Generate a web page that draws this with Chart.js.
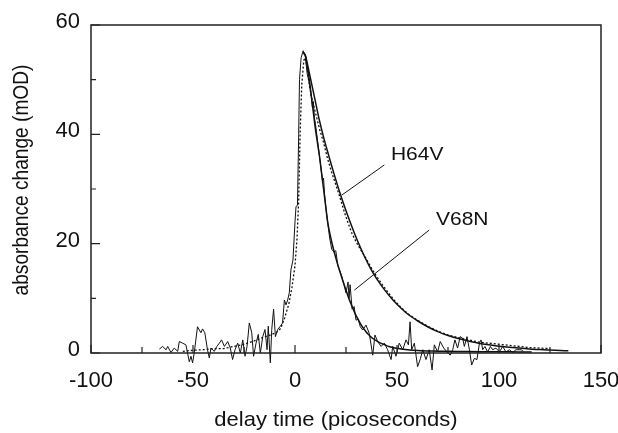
<!DOCTYPE html>
<html>
<head>
<meta charset="utf-8">
<script src="https://cdn.jsdelivr.net/npm/chart.js@4/dist/chart.umd.min.js"></script>
<style>
  html, body { margin: 0; padding: 0; background: #fff; }
  #wrap { width: 618px; height: 433px; }
</style>
</head>
<body>
<div id="wrap"><canvas id="grafico"></canvas></div>
<script>
// V68N measured trace (noisy solid line)
const v68nTime = [-66.5, -64.9, -63.2, -62.4, -60.8, -59.2, -57.5, -56.7, -55.1, -53.5, -51.8, -51, -50.2, -49.4, -47.8, -46.1, -45.3, -44.2, -42.9, -42, -41.2, -39.6, -38.3, -37.1, -36, -34.6, -33, -31.7, -30.6, -29.4, -28.1, -26.8, -25.6, -24.5, -23.5, -22.4, -21.2, -20.3, -19.1, -18, -17, -15.8, -14.7, -13.7, -13.1, -12.1, -11.4, -10.5, -9.6, -8.5, -7.2, -6.1, -5.2, -4.4, -3.6, -2.8, -2, -1, 0, 0.5, 1.2, 1.8, 2.2, 3, 4, 5, 6, 7, 8, 8.5, 9, 9.5, 10, 11, 12, 13, 13.5, 14, 14.5, 15, 16, 17, 18, 19, 20, 21, 22, 23, 24, 25, 26, 26.5, 27, 28, 29, 29.9, 31, 32, 33.2, 34.8, 36.4, 38.1, 39.2, 40.5, 42.2, 43.8, 45.4, 47.1, 47.9, 49.5, 51.1, 52.8, 54.4, 55.6, 56.4, 57.2, 58.5, 60.1, 61.5, 62.6, 64.2, 65.8, 67.2, 68.3, 69.9, 71.2, 72.9, 74.5, 76.1, 77.3, 78.4, 79.7, 81, 82.2, 83, 84.3, 85.5, 86.6, 87.9, 89.2, 90.4, 91.2, 92, 93.1, 94.4, 95.8, 96.9, 98.5, 100.2, 101.8, 103.4, 105.1, 106.7, 108.3, 110.8, 112];
const v68nAbs = [0.7, 1.2, 0.6, 1.2, 0.1, 0.9, 0.3, 2.1, 1.8, 1.5, -1.6, -0.6, -1.8, 0, 4.8, 3.7, 4.4, 3.7, 0.6, -0.9, 0.9, 0.3, 1.2, 1.8, 2.4, 1.2, 2.1, 0.9, -1.2, 0.6, 1.8, 0, 2.4, -0.6, 1.2, 5.5, 3.7, -0.6, 1.8, 3.4, 0, 3, 4.3, 0.6, 4.9, -1.8, 4.3, 8, 3, 4.3, 4.9, 5.5, 9.7, 8.8, 9.7, 11, 15.2, 17, 24, 26.8, 27, 40, 50, 54, 55.3, 54.5, 51, 49.5, 47, 45, 46, 43, 42, 39, 36, 33, 31.5, 32, 29, 27, 24, 21, 19, 18.5, 18.7, 16, 15, 14, 12.5, 11, 13, 10, 12.5, 8, 8.5, 6, 6.2, 4.8, 4.2, 5.1, 3.6, -0.4, 3.3, 2.1, 1.2, 1.8, 0.6, -1.2, 1.2, -0.6, 1.8, 0.6, 2.4, 1.5, 5.7, 0.6, 1.8, -2.5, -1, 0.6, -1.2, 0.6, -3.1, 1.5, 0.2, 2.1, 0.9, 0.2, -0.4, 0.6, 2.4, 0.9, 3, 2.7, 1.2, 3, 0.6, -2.2, -1, -1.2, 1.8, 2.4, 0.6, 1.2, 0.2, 1.2, 0.6, 0.9, 0.2, 1.2, 0.2, 0.6, 0.1, 0.6, 0.6, 0.3];

// V68N fitted decay (smooth solid line)
const v68nFitTime = [4, 5, 6, 7, 8, 9, 10, 11, 12, 13, 14, 15, 16, 17, 18, 19, 20, 21, 22, 23, 24, 25, 26, 27, 28, 29, 30, 31, 32, 33, 34, 35, 36, 37, 38, 40, 42, 44, 46, 48, 50, 53, 56, 60, 65, 70, 80, 90, 100, 110, 116];
const v68nFitAbs = [55, 54.5, 52.5, 50, 47, 44, 41, 38.5, 36, 33, 30, 27, 24, 22, 20.3, 18.8, 17.4, 16.1, 14.9, 13.7, 12.6, 11.5, 10.4, 9.4, 8.5, 7.6, 6.8, 6.1, 5.4, 4.8, 4.3, 3.8, 3.4, 3, 2.7, 2.2, 1.8, 1.5, 1.2, 1, 0.85, 0.7, 0.55, 0.45, 0.38, 0.33, 0.28, 0.25, 0.22, 0.2, 0.2];

// H64V measured trace (dotted line)
const h64vTime = [-55, -50, -45, -40, -35, -30, -25, -20, -16, -12, -9, -7, -5, -3, -1.5, 0, 1, 1.8, 2.5, 3.3, 4.3, 5, 6, 7, 8, 9, 10, 12, 14, 16, 18, 20, 22, 24, 26, 28, 30, 32, 34, 36, 38, 40, 43, 46, 49, 52, 56, 60, 65, 70, 75, 80, 85, 90, 95, 100, 105, 110, 115, 120, 125];
const h64vAbs = [0.3, 0.5, 0.6, 0.8, 0.8, 1.2, 1.6, 2.2, 2.8, 3.3, 3.8, 4.5, 6.5, 9, 12, 16, 21, 28, 40, 49, 53.5, 54, 52, 49, 47, 45.5, 44, 41, 38.5, 35.5, 33, 30.8, 28.5, 26, 23.8, 21.8, 20.3, 19, 17.8, 16.5, 15.2, 14, 12.4, 10.9, 9.5, 8.3, 7, 6, 4.9, 4, 3.3, 2.8, 2.4, 2, 1.8, 1.6, 1.4, 1.2, 1, 0.9, 0.8];

// H64V fitted decay (smooth solid line)
const h64vFitTime = [4, 5, 6, 8, 10, 12, 14, 16, 18, 20, 22, 25, 28, 31, 34, 37, 40, 44, 48, 52, 56, 60, 65, 70, 75, 80, 85, 90, 95, 100, 105, 110, 115, 120, 125, 130, 134];
const h64vFitAbs = [55, 54.5, 53, 49.5, 46, 42.5, 39.5, 36.8, 34.2, 31.7, 29.3, 26, 23, 20.2, 17.7, 15.5, 13.6, 11.5, 9.7, 8.2, 6.9, 5.9, 4.8, 3.9, 3.2, 2.65, 2.2, 1.8, 1.5, 1.25, 1.05, 0.9, 0.75, 0.62, 0.53, 0.45, 0.4];

// labels with their pointer lines (data units)
const labelNames = ["H64V", "V68N"];
const labelAt = [[47, 36.2], [69.1, 24.3]];
const pointerFrom = [[43.8, 34.4], [65.8, 22.5]];
const pointerTo = [[23, 28.9], [29.1, 11.5]];

const xTicks = [-100, -50, 0, 50, 100, 150];
const yTicks = [0, 20, 40, 60];
const xTitle = "delay time (picoseconds)";
const yTitle = "absorbance change (mOD)";

const toPoints = (xs, ys) => xs.map((x, i) => ({ x: x, y: ys[i] }));
const FONT = "'Liberation Sans', Arial, sans-serif";
const INK = "#111";

const baseLine = {
  pointRadius: 0,
  borderColor: INK,
  borderWidth: 1,
  tension: 0,
  fill: false,
  clip: false,
};

const datasets = [
  { ...baseLine, label: "V68N", data: toPoints(v68nTime, v68nAbs) },
  { ...baseLine, label: "V68N fit", data: toPoints(v68nFitTime, v68nFitAbs), borderWidth: 1.5, tension: 0.3 },
  { ...baseLine, label: "H64V", data: toPoints(h64vTime, h64vAbs), borderDash: [2, 2], borderWidth: 1.3 },
  { ...baseLine, label: "H64V fit", data: toPoints(h64vFitTime, h64vFitAbs), borderWidth: 1.5, tension: 0.3 },
];
pointerFrom.forEach((p, i) => {
  datasets.push({
    ...baseLine,
    label: labelNames[i] + " pointer",
    data: [{ x: p[0], y: p[1] }, { x: pointerTo[i][0], y: pointerTo[i][1] }],
  });
});

// box round the plot, inward tick marks, axis titles and the two series labels
const marcos = {
  id: "marcos",
  afterDraw(chart) {
    const { ctx, chartArea: a, scales } = chart;
    ctx.save();
    ctx.strokeStyle = "#222";
    ctx.lineWidth = 1.5;
    ctx.strokeRect(a.left, a.top, a.right - a.left, a.bottom - a.top);
    ctx.lineWidth = 1.2;
    ctx.beginPath();
    scales.x.ticks.forEach((t) => {
      const px = scales.x.getPixelForValue(t.value);
      const len = t.value % 50 === 0 ? 8 : 6;
      ctx.moveTo(px, a.bottom);
      ctx.lineTo(px, a.bottom - len);
    });
    scales.y.ticks.forEach((t) => {
      const py = scales.y.getPixelForValue(t.value);
      const len = t.value % 20 === 0 ? 9 : 5;
      ctx.moveTo(a.left, py);
      ctx.lineTo(a.left + len, py);
    });
    ctx.stroke();

    ctx.fillStyle = INK;
    ctx.font = "21px " + FONT;
    ctx.textAlign = "left";
    ctx.textBaseline = "middle";
    labelNames.forEach((name, i) => {
      ctx.save();
      ctx.translate(
        scales.x.getPixelForValue(labelAt[i][0]),
        scales.y.getPixelForValue(labelAt[i][1])
      );
      ctx.scale(1, 0.9);
      ctx.fillText(name, 0, 0);
      ctx.restore();
    });

    // axis titles (the scan is a little squashed vertically)
    ctx.font = "22px " + FONT;
    ctx.textAlign = "center";
    ctx.save();
    ctx.translate((a.left + a.right) / 2 - 10, a.bottom + 68);
    ctx.scale(1, 0.88);
    ctx.fillText(xTitle, 0, 0);
    ctx.restore();

    ctx.save();
    ctx.translate(22, (a.top + a.bottom) / 2 - 9);
    ctx.rotate(-Math.PI / 2);
    ctx.scale(0.87, 1);
    ctx.fillText(yTitle, 0, 0);
    ctx.restore();
    ctx.restore();
  },
};

const ctx = document.getElementById("grafico").getContext("2d");
new Chart(ctx, {
  type: "line",
  data: { datasets: datasets },
  options: {
    responsive: true,
    maintainAspectRatio: false,
    animation: false,
    events: [],
    layout: { padding: { top: 25, right: 17, left: 0, bottom: 0 } },
    plugins: { legend: { display: false }, tooltip: { enabled: false } },
    scales: {
      x: {
        type: "linear",
        min: -100,
        max: 150,
        border: { display: false },
        grid: { display: false, drawTicks: false },
        ticks: {
          stepSize: 25,
          autoSkip: false,
          maxRotation: 0,
          padding: 15,
          color: INK,
          font: { family: FONT, size: 22 },
          callback: (v) => (xTicks.includes(v) ? String(v) : ""),
        },
        afterFit: (s) => {
          s.height = 80;
          s.paddingLeft = 0;
          s.paddingRight = 0;
        },
      },
      y: {
        min: 0,
        max: 60,
        border: { display: false },
        grid: { display: false, drawTicks: false },
        ticks: {
          stepSize: 10,
          autoSkip: false,
          padding: 11,
          labelOffset: -3,
          color: INK,
          font: { family: FONT, size: 22 },
          callback: (v) => (yTicks.includes(v) ? String(v) : ""),
        },
        afterFit: (s) => {
          s.width = 91;
          s.paddingTop = 0;
          s.paddingBottom = 0;
        },
      },
    },
  },
  plugins: [marcos],
});
</script>
</body>
</html>
